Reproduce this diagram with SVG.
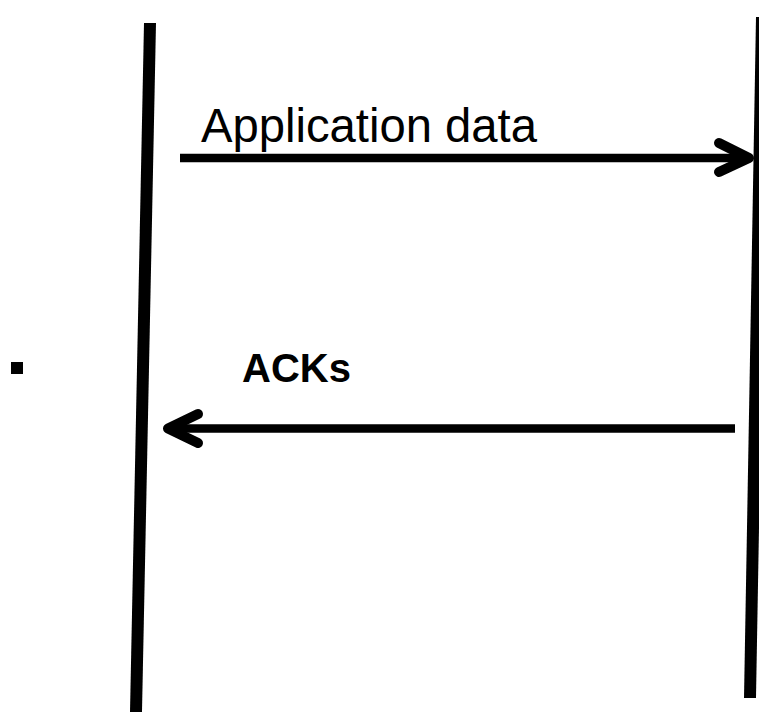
<svg xmlns="http://www.w3.org/2000/svg" width="759" height="712" viewBox="0 0 759 712">
<style>
.life{stroke:#000;stroke-width:12;fill:none}
.shaft{stroke:#000;stroke-width:8.5;fill:none}
.head{stroke:#000;stroke-width:10;fill:none;stroke-linecap:round;stroke-linejoin:round}
.lbl{font-family:"Liberation Sans",Arial,sans-serif;fill:#000}
</style>
<rect width="759" height="712" fill="#fff"/>
<g id="lifeline-left"><line class="life" x1="150" y1="23" x2="136" y2="712"/></g>
<g id="lifeline-right"><line class="life" x1="762" y1="17" x2="750" y2="698"/></g>
<g id="bullet"><rect x="11" y="362" width="12" height="12" fill="#000"/></g>
<g id="connectors">
<g id="app-data">
<line class="shaft" x1="180" y1="158" x2="745" y2="158"/>
<polyline class="head" points="719,143 749,158 719,172"/>
</g>
<g id="acks">
<line class="shaft" x1="735" y1="428.5" x2="172" y2="428.5"/>
<polyline class="head" points="198,414 168,428.5 198,443"/>
</g>
</g>
<g id="label-app"><text class="lbl" x="201" y="142" font-size="47.5" textLength="336" lengthAdjust="spacingAndGlyphs">Application data</text></g>
<g id="label-acks"><text class="lbl" x="242" y="382" font-size="40" font-weight="bold">ACKs</text></g>
</svg>
